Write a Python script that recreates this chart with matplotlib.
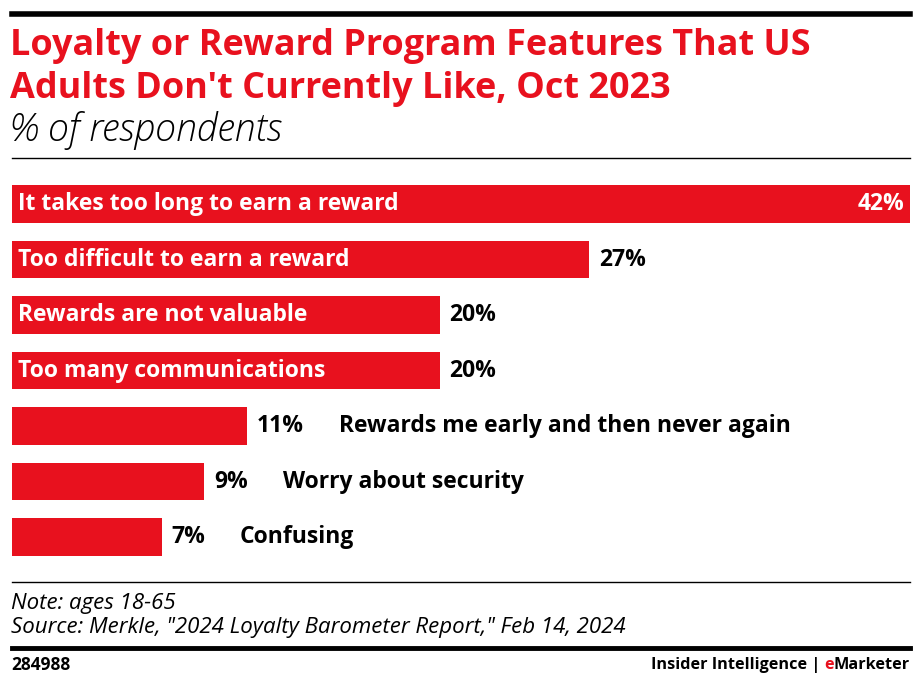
import matplotlib.pyplot as plt
import numpy as np

categories = ["It takes too long to earn a reward", "Too difficult to earn a reward",
              "Rewards are not valuable", "Too many communications",
              "Rewards me early and then never again", "Worry about security", "Confusing"]
values = [42, 27, 20, 20, 11, 9, 7]
value_labels = ["42%", "27%", "20%", "20%", "11%", "9%", "7%"]
inside = [True, True, True, True, False, False, False]

RED = "#E8111E"
W, H = 922, 686
plt.rcParams['font.family'] = ['Open Sans', 'DejaVu Sans']

fig = plt.figure(figsize=(W / 100, H / 100), dpi=100)

def px(x, y):
    return x / W, 1 - y / H

# chart axes in pixel coordinates
top, bottom = 176.25, 564.75
ax = fig.add_axes([12 / W, 1 - bottom / H, (910 - 12) / W, (bottom - top) / H])
y = np.arange(len(categories))
ax.barh(y, values, height=0.67, color=RED, left=0)
ax.set_xlim(0, 42)
ax.set_ylim(len(categories) - 0.5, -0.5)
ax.axis('off')

FS = 16.5
for i, (v, lab, cat, ins) in enumerate(zip(values, value_labels, categories, inside)):
    if i == 0:
        ax.annotate(lab, xy=(v, i), xytext=(-4, 0), textcoords='offset points',
                    ha='right', va='center', color='white', fontsize=FS, fontweight='bold')
    else:
        t = ax.annotate(lab, xy=(v, i), xytext=(7, 0), textcoords='offset points',
                        ha='left', va='center', color='black', fontsize=FS, fontweight='bold')
    if ins:
        ax.annotate(cat, xy=(0, i), xytext=(4, 0), textcoords='offset points',
                    ha='left', va='center', color='white', fontsize=FS, fontweight='bold')
    else:
        ax.annotate(cat, xy=(1, 0.5), xycoords=t, xytext=(25, 0), textcoords='offset points',
                    ha='left', va='center', color='black', fontsize=FS, fontweight='bold')

# header
fig.add_artist(plt.Line2D([12 / W, 910 / W], [1 - 13.5 / H] * 2, color='black', lw=4))
fig.text(*px(10, 46), "Loyalty or Reward Program Features That US", color=RED,
         fontsize=25.9, fontweight='bold', va='center', ha='left')
fig.text(*px(10, 89), "Adults Don't Currently Like, Oct 2023", color=RED,
         fontsize=25.9, fontweight='bold', va='center', ha='left')
fig.text(*px(10, 131), "% of respondents", color='black', fontsize=27,
         style='italic', fontweight='light', va='center', ha='left')
fig.add_artist(plt.Line2D([12 / W, 910 / W], [1 - 158 / H] * 2, color='black', lw=1))

# footer
fig.add_artist(plt.Line2D([12 / W, 910 / W], [1 - 582 / H] * 2, color='black', lw=1))
fig.text(*px(11, 604), "Note: ages 18-65", fontsize=16, style='italic', va='center')
fig.text(*px(11, 628), "Source: Merkle, \"2024 Loyalty Barometer Report,\" Feb 14, 2024",
         fontsize=16, style='italic', va='center')
fig.add_artist(plt.Line2D([12 / W, 910 / W], [1 - 648 / H] * 2, color='black', lw=3.5))
fig.text(*px(11, 665), "284988", fontsize=12.5, fontweight='bold', va='center')
t1 = fig.text(*px(910, 665), "Marketer", fontsize=11.7, fontweight='bold', va='center', ha='right')
t2 = fig.text(0, 0, "e", fontsize=11.7, fontweight='bold', va='center', ha='right', color=RED)
fig.canvas.draw()
bb = t1.get_window_extent()
t2.set_position((bb.x0 / W, 1 - 665 / H))
bb2 = t2.get_window_extent()
fig.text(bb2.x0 / W, 1 - 665 / H, "Insider Intelligence | ", fontsize=11.7, fontweight='bold',
         va='center', ha='right')

fig.savefig("out.png", dpi=100)
